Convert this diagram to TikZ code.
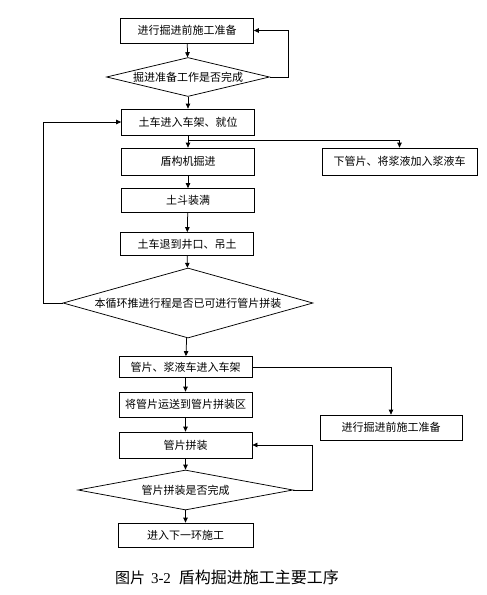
\documentclass[tikz,border=0pt]{standalone}
\usepackage{fontspec}
\setmainfont{Noto Sans CJK SC}
\newfontfamily\numfont{Liberation Serif}
\usetikzlibrary{arrows.meta, shapes.geometric}

\begin{document}
\begin{tikzpicture}[x=1pt, y=-1pt, >={Triangle[length=5pt, width=4.5pt]}, line width=0.75pt,
    caja/.style={draw, rectangle, minimum width=133pt, minimum height=25pt, inner sep=0pt,
      font=\fontsize{11}{13}\selectfont},
    rombo/.style={draw, diamond, aspect=4, inner sep=0pt, font=\fontsize{11}{13}\selectfont}]
  \useasboundingbox (0,0) rectangle (487,595);
  % preparacion
  \node[caja] (prep) at (187,30.5) {进行掘进前施工准备};
  \node[rombo, minimum width=163pt, minimum height=39pt] (chk1) at (188,77) {掘进准备工作是否完成};
  % ciclo de excavacion
  \node[caja, minimum height=26pt] (cart) at (188,122) {土车进入车架、就位};
  \node[caja, minimum height=27pt] (dig) at (188,161.5) {盾构机掘进};
  \node[caja, minimum width=155pt, minimum height=27pt] (unload) at (399.5,161.5) {下管片、将浆液加入浆液车};
  \node[caja, minimum height=24pt] (full) at (188,200.5) {土斗装满};
  \node[caja, minimum height=23pt] (back) at (187,244) {土车退到井口、吊土};
  \node[rombo, minimum width=250pt, minimum height=70pt] (chk2) at (188,303) {本循环推进行程是否已可进行管片拼装};
  % montaje de anillos
  \node[caja, minimum height=21pt] (seg) at (185.5,367) {管片、浆液车进入车架};
  \node[caja] (move) at (185.5,404.5) {将管片运送到管片拼装区};
  \node[caja, minimum width=142pt] (prep2) at (391,427.5) {进行掘进前施工准备};
  \node[caja, minimum height=26pt] (assm) at (185.5,445) {管片拼装};
  \node[rombo, minimum width=215pt, minimum height=40pt] (chk3) at (185.5,490) {管片拼装是否完成};
  \node[caja, minimum width=135pt, minimum height=24pt] (next) at (185.5,535) {进入下一环施工};
  \node[font=\fontsize{15}{17}\selectfont] (cap) at (227,577)
    {图片\hspace{6pt}{\numfont 3-2}\hspace{8pt}{\fontsize{16}{17}\selectfont 盾构掘进施工主要工序}};
  % flechas
  \draw[->] (prep) -- (chk1);
  \draw[->] (chk1.east) -- ++(18,0) |- (prep.east);
  \draw[->] (chk1) -- (cart);
  \draw[->] (cart) -- (dig);
  \draw[->] (cart.south) -- ++(0,5) -| (unload.north);
  \draw[->] (dig) -- (full);
  \draw[->] (full) -- (back);
  \draw[->] (back) -- (chk2);
  \draw[->] (chk2.west) -- ++(-19,0) |- (cart.west);
  \draw[->] (chk2) -- (seg);
  \draw[->] (seg.east) -| (prep2.north);
  \draw[->] (seg) -- (move);
  \draw[->] (move) -- (assm);
  \draw[->] (assm) -- (chk3);
  \draw[->] (chk3.east) -- ++(19,0) |- (assm.east);
  \draw[->] (chk3) -- (next);
\end{tikzpicture}
\end{document}
